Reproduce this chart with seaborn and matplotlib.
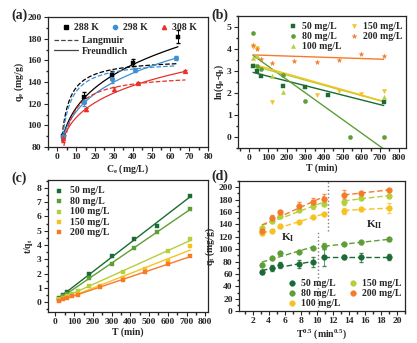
import numpy as np
import matplotlib
matplotlib.use("Agg")
import matplotlib.pyplot as plt
import seaborn as sns
from matplotlib.ticker import MultipleLocator, AutoMinorLocator
from matplotlib.lines import Line2D

# ---- (a) isotherms ----
ce_288 = [3, 14, 29, 40, 64]
qe_288 = [90, 126, 147, 158, 182]
err_288 = [2, 5, 3, 3, 6]
ce_298 = [3, 14, 29, 41, 63]
qe_298 = [90, 122, 143, 151.5, 162.5]
err_298 = [1.5, 4, 4, 2, 2]
ce_308 = [3, 15, 30, 43, 68]
qe_308 = [88, 115, 133.5, 139, 150]
err_308 = [3, 1.5, 2, 1, 1]
# fitted parameters (qm, KL) and (KF, 1/n)
langmuir_par = [(162, 0.5), (160.5, 0.45), (148, 0.35)]
freundlich_par = [(71.2, 0.213), (71.7, 0.197), (71.8, 0.1746)]

# ---- (b) pseudo-first-order ----
t_b50 = [20, 40, 60, 180, 300, 420, 720]
y_b50 = [3.22, 3.0, 2.75, 2.3, 2.25, 1.92, 1.6]
t_b80 = [20, 40, 60, 180, 300, 540, 720]
y_b80 = [4.7, 3.2, 3.1, 2.8, 1.65, 0, 0]
t_b100 = [20, 40, 120, 180, 720]
y_b100 = [3.6, 3.65, 2.75, 2.05, 1.8]
t_b150 = [20, 40, 120, 360, 480, 600, 720]
y_b150 = [4.1, 4.05, 1.6, 1.9, 2.1, 1.95, 2.1]
t_b200 = [20, 40, 60, 120, 240, 360, 480, 600, 720]
y_b200 = [4.15, 4.0, 3.55, 3.35, 3.45, 3.4, 3.5, 3.75, 3.65]

# ---- (c) pseudo-second-order ----
t_c50 = [20, 40, 60, 180, 300, 420, 540, 720]
y_c50 = [0.28, 0.5, 0.7, 1.97, 3.25, 4.45, 5.35, 7.45]
t_c80 = [20, 40, 60, 180, 300, 420, 540, 720]
y_c80 = [0.25, 0.4, 0.55, 1.7, 2.7, 3.8, 4.9, 6.5]
t_c100 = [20, 40, 60, 90, 120, 180, 360, 600, 720]
y_c100 = [0.2, 0.3, 0.45, 0.6, 0.75, 1.12, 2.12, 3.55, 4.4]
t_c150 = [20, 60, 120, 240, 360, 480, 600, 720]
y_c150 = [0.15, 0.35, 0.55, 1.15, 1.7, 2.3, 2.9, 3.9]
t_c200 = [20, 40, 60, 90, 120, 240, 360, 480, 600, 720]
y_c200 = [0.1, 0.2, 0.3, 0.4, 0.5, 1.05, 1.55, 2.1, 2.7, 3.2]

# ---- (d) intraparticle diffusion ----
t_sqrt = [3.16, 4.47, 5.48, 7.75, 9.49, 10.95, 13.4, 15.5, 18.97]
q_d50 = [63, 70, 74, 76, 79, 87, 87, 87, 87]
e_d50 = [3, 5, 5, 6, 8, 14, 3, 7, 5]
q_d80 = [75, 85, 94, 96, 102, 105, 108, 111, 116]
e_d80 = [2, 2, 2, 2, 2, 5, 2, 2, 2]
q_d100 = [126, 129, 137, 144, 152, 157, 162, 165, 166]
e_d100 = [3, 2, 2, 2, 2, 2, 5, 2, 8]
q_d150 = [134, 145, 153, 164, 170, 173, 177, 183, 186]
e_d150 = [2, 2, 2, 3, 5, 4, 6, 4, 3]
q_d200 = [130, 150, 160, 170, 176, 181, 188, 190, 196]
e_d200 = [4, 5, 3, 6, 6, 8, 7, 3, 2]
stage_split = [5, 5, 6, 6, 6]  # points in stage I

labels = ["50 mg/L", "80 mg/L", "100 mg/L", "150 mg/L", "200 mg/L"]

sns.set_theme(style="ticks")
plt.rcParams["font.family"] = ["Liberation Serif", "DejaVu Serif"]
plt.rcParams["font.weight"] = "bold"
plt.rcParams["axes.labelweight"] = "bold"
plt.rcParams["mathtext.fontset"] = "custom"
plt.rcParams["mathtext.rm"] = "Liberation Serif:bold"
plt.rcParams["mathtext.it"] = "Liberation Serif:italic:bold"
plt.rcParams["mathtext.bf"] = "Liberation Serif:bold"
plt.rcParams["mathtext.default"] = "regular"
plt.rcParams["axes.linewidth"] = 0.9
plt.rcParams["xtick.major.width"] = 0.8
plt.rcParams["ytick.major.width"] = 0.8
plt.rcParams["xtick.major.size"] = 3
plt.rcParams["ytick.major.size"] = 3
plt.rcParams["xtick.minor.size"] = 1.8
plt.rcParams["ytick.minor.size"] = 1.8
plt.rcParams["xtick.labelsize"] = 6.8
plt.rcParams["ytick.labelsize"] = 6.8

dkg = "#1b6b35"
grn = "#5f9e35"
ylg = "#b3cf3a"
yel = "#f6c223"
org = "#f47b2b"

fig = plt.figure(figsize=(4.17, 3.43), dpi=100)
ax_a = fig.add_axes([0.115, 0.571, 0.384, 0.379])
ax_b = fig.add_axes([0.571, 0.569, 0.403, 0.385])
ax_c = fig.add_axes([0.115, 0.090, 0.384, 0.385])
ax_d = fig.add_axes([0.573, 0.093, 0.398, 0.379])


def style(ax, xlim, ylim, xmaj, ymaj, xlabel, ylabel):
    ax.set_xlim(*xlim)
    ax.set_ylim(*ylim)
    ax.xaxis.set_major_locator(MultipleLocator(xmaj))
    ax.yaxis.set_major_locator(MultipleLocator(ymaj))
    ax.xaxis.set_minor_locator(AutoMinorLocator(2))
    ax.yaxis.set_minor_locator(AutoMinorLocator(2))
    ax.tick_params(which="both", direction="out", top=False, right=False, pad=1.5)
    ax.set_xlabel(xlabel, fontsize=7, labelpad=1)
    ax.set_ylabel(ylabel, fontsize=7, labelpad=1)
    for lab in ax.get_xticklabels() + ax.get_yticklabels():
        lab.set_fontweight("bold")


# ---------- (a) ----------
temps = [("288 K", ce_288, qe_288, err_288, "black", "s"),
         ("298 K", ce_298, qe_298, err_298, "#3f8fd2", "o"),
         ("308 K", ce_308, qe_308, err_308, "#e8302a", "^")]
for i, (lab, ce, qe, er, col, mk) in enumerate(temps):
    ce = np.array(ce, float)
    xs = np.linspace(2.5, ce[-1], 200)
    qm, kl = langmuir_par[i]
    kf, n_inv = freundlich_par[i]
    ax_a.plot(xs, qm * kl * xs / (1 + kl * xs), "--", color=col, lw=0.9)
    ax_a.plot(xs, kf * xs ** n_inv, "-", color=col, lw=0.9)
    ax_a.errorbar(ce, qe, yerr=er, fmt="none", ecolor=col, elinewidth=0.7, capsize=1.5)
    sns.scatterplot(x=ce, y=qe, marker=mk, color=col, s=12, edgecolor=col,
                    linewidth=0.3, ax=ax_a, legend=False, zorder=3)
style(ax_a, (-5, 80), (80, 200), 10, 20, "C$_e$ (mg/L)", "q$_e$ (mg/g)")
h1 = [Line2D([], [], ls="none", marker=m, color=c, markersize=3) for _, _, _, _, c, m in temps]
leg1 = ax_a.legend(h1, [t[0] for t in temps], ncol=3, loc="upper left",
                   bbox_to_anchor=(0.02, 1.02), frameon=False,
                   handletextpad=0.2, columnspacing=1.1, handlelength=1.2,
                   prop={"weight": "bold", "size": 7})
ax_a.add_artist(leg1)
h2 = [Line2D([], [], ls="--", color="#444444", lw=0.9),
      Line2D([], [], ls="-", color="#444444", lw=0.9)]
ax_a.legend(h2, ["Langmuir", "Freundlich"], loc="upper left",
            bbox_to_anchor=(-0.02, 0.92), frameon=False, handlelength=2.5,
            handletextpad=0.4, labelspacing=0.15, prop={"weight": "bold", "size": 7})

# ---------- (b) ----------
series_b = [(t_b50, y_b50, dkg, "s"), (t_b80, y_b80, grn, "o"),
            (t_b100, y_b100, ylg, "^"), (t_b150, y_b150, yel, "v"),
            (t_b200, y_b200, org, "*")]
for (t, y, col, mk), lab in zip(series_b, labels):
    t = np.array(t, float)
    y = np.array(y, float)
    k, b = np.polyfit(t, y, 1)
    tt = np.array([t[0], t[-1]])
    ax_b.plot(tt, k * tt + b, color=col, lw=1.0)
    sns.scatterplot(x=t, y=y, marker=mk, color=col, s=12 if mk == "*" else 9,
                    edgecolor=col, linewidth=0.3, ax=ax_b, label=lab, zorder=3)
style(ax_b, (-60, 840), (-0.5, 5.5), 100, 1, "T (min)", "ln(q$_e$-q$_t$)")
ax_b.legend(ncol=2, loc="upper right", bbox_to_anchor=(1.03, 1.02), frameon=False,
            handletextpad=0.2, columnspacing=0.6, labelspacing=0.1,
            handlelength=1.4, prop={"weight": "bold", "size": 7})

# ---------- (c) ----------
series_c = [(t_c50, y_c50, dkg), (t_c80, y_c80, grn), (t_c100, y_c100, ylg),
            (t_c150, y_c150, yel), (t_c200, y_c200, org)]
for (t, y, col), lab in zip(series_c, labels):
    t = np.array(t, float)
    y = np.array(y, float)
    k, b = np.polyfit(t, y, 1)
    tt = np.array([t[0], t[-1]])
    ax_c.plot(tt, k * tt + b, color=col, lw=1.0)
    sns.scatterplot(x=t, y=y, marker="s", color=col, s=9, edgecolor=col,
                    linewidth=0.3, ax=ax_c, label=lab, zorder=3)
style(ax_c, (-40, 815), (-0.7, 8.55), 100, 1, "T (min)", "t/q$_t$")
ax_c.legend(loc="upper left", bbox_to_anchor=(-0.03, 1.02), frameon=False,
            handletextpad=0.5, labelspacing=0.15, handlelength=1.4,
            prop={"weight": "bold", "size": 7})

# ---------- (d) ----------
series_d = [(q_d50, e_d50, dkg, "50 mg/L"), (q_d80, e_d80, grn, "80 mg/L"),
            (q_d100, e_d100, yel, "100 mg/L"), (q_d150, e_d150, ylg, "150 mg/L"),
            (q_d200, e_d200, org, "200 mg/L")]
x_d = np.array(t_sqrt)
for (q, e, col, lab), ns in zip(series_d, stage_split):
    q = np.array(q, float)
    for seg in (slice(0, ns), slice(ns, None)):
        xs, ys = x_d[seg], q[seg]
        k, b = np.polyfit(xs, ys, 1)
        tt = np.array([xs[0], xs[-1]])
        ax_d.plot(tt, k * tt + b, "--", color=col, lw=1.0, dashes=(4, 2))
    ax_d.errorbar(x_d, q, yerr=e, fmt="none", ecolor=col, elinewidth=0.6,
                  capsize=1.5, alpha=0.8)
    sns.scatterplot(x=x_d, y=q, marker="o", color=col, s=16, edgecolor=col,
                    linewidth=0.4, ax=ax_d, label=lab, zorder=3)
ax_d.axvline(10.1, ymin=0, ymax=0.62, color="gray", ls=":", lw=1.0)
ax_d.axvline(11.4, ymin=0.62, ymax=1, color="gray", ls=":", lw=1.0)
ax_d.text(6.4, 119, "K$_\\mathrm{I}$", fontsize=8, ha="center", va="center")
ax_d.text(17.2, 139, "K$_\\mathrm{II}$", fontsize=8, ha="center", va="center")
style(ax_d, (0.3, 21), (0, 210), 2, 20, "T$^{0.5}$ (min$^{0.5}$)", "q$_t$ (mg/g)")
ax_d.legend(ncol=2, loc="lower right", bbox_to_anchor=(1.03, -0.04), frameon=False,
            handletextpad=0.2, columnspacing=0.6, labelspacing=0.1,
            handlelength=1.4, prop={"weight": "bold", "size": 7})

for txt, x, y in [("(a)", 0.028, 0.955), ("(b)", 0.508, 0.955),
                  ("(c)", 0.028, 0.48), ("(d)", 0.508, 0.485)]:
    fig.text(x, y, txt, fontsize=10, fontweight="bold", va="center")

fig.savefig("out.png", dpi=100)
